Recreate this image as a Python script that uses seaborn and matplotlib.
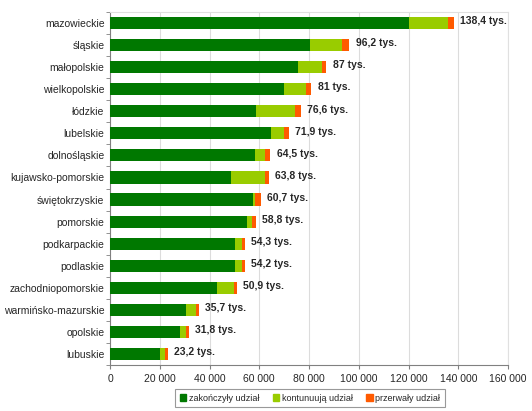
import matplotlib as mpl
import matplotlib.pyplot as plt
import seaborn as sns
import pandas as pd
import numpy as np

# Data (thousands, totals from labels)
regions = ['mazowieckie', 'śląskie', 'małopolskie', 'wielkopolskie', 'łódzkie', 'lubelskie',
           'dolnośląskie', 'kujawsko-pomorskie', 'świętokrzyskie', 'pomorskie', 'podkarpackie',
           'podlaskie', 'zachodniopomorskie', 'warmińsko-mazurskie', 'opolskie', 'lubuskie']
zakonczyly = [120.4, 80.3, 75.6, 70.1, 58.5, 64.8, 58.4, 48.7, 57.3, 55.0, 50.3, 50.1, 43.2, 30.6, 28.2, 19.9]
kontynuuja = [15.4, 13.1, 9.5, 8.8, 16.0, 5.3, 4.0, 13.8, 1.1, 2.1, 2.9, 3.1, 6.6, 3.9, 2.3, 2.2]
przerwaly = [2.6, 2.8, 1.9, 2.1, 2.1, 1.8, 2.1, 1.3, 2.3, 1.7, 1.0, 1.0, 1.1, 1.2, 1.3, 1.1]
total_labels = ['138,4', '96,2', '87', '81', '76,6', '71,9', '64,5', '63,8', '60,7', '58,8',
                '54,3', '54,2', '50,9', '35,7', '31,8', '23,2']
series_names = ['zakończyły udział', 'kontunuują udział', 'przerwały udział']
colors = ['#007800', '#99cc00', '#ff5a00']

sns.set_style("white")
plt.rcParams['font.family'] = ['Liberation Sans', 'DejaVu Sans']

df = pd.DataFrame({'region': regions,
                   'z': np.array(zakonczyly) * 1000,
                   'k': np.array(kontynuuja) * 1000,
                   'p': np.array(przerwaly) * 1000})
df['zk'] = df['z'] + df['k']
df['zkp'] = df['zk'] + df['p']

fig = plt.figure(figsize=(5.32, 4.11), dpi=100)
ax = fig.add_axes([110 / 532, 1 - 365 / 411, 398 / 532, 353 / 411])

# Stacked bars drawn as overlapping cumulative layers
for col, c in zip(['zkp', 'zk', 'z'], colors[::-1]):
    sns.barplot(data=df, y='region', x=col, orient='h', color=c, width=0.55,
                edgecolor='none', saturation=1, ax=ax, legend=False, zorder=3)

# Value labels
for i, (tot, lab) in enumerate(zip(df['zkp'], total_labels)):
    ax.text(tot + 2500, i - 0.08, f'{lab} tys.', ha='left', va='center',
            fontsize=7.5, fontweight='bold', zorder=4)

ax.set_xlim(0, 160000)
ax.set_ylim(len(regions) - 0.5, -0.5)
ticks = np.arange(0, 160001, 20000)
ax.set_xticks(ticks, [f'{t:,}'.replace(',', ' ') for t in ticks], fontsize=7.5)
ax.tick_params(axis='y', labelsize=7.5, pad=4)
ax.tick_params(axis='x', length=3, bottom=True, color='#808080')
ax.set_yticks(np.arange(len(regions) + 1) - 0.5, minor=True)
ax.tick_params(axis='y', which='minor', length=3, left=True, color='#808080')
ax.tick_params(axis='y', which='major', length=0)
ax.set_xlabel('')
ax.set_ylabel('')
ax.grid(axis='x', color='#dcdcdc', linewidth=0.8, zorder=0)
ax.set_axisbelow(True)
for s in ['top', 'right']:
    ax.spines[s].set_color('#e0e0e0')
for s in ['left', 'bottom']:
    ax.spines[s].set_color('#808080')
    ax.spines[s].set_linewidth(0.8)

handles = [mpl.patches.Patch(color=c) for c in colors]
leg = fig.legend(handles, series_names, loc='center', bbox_to_anchor=(310 / 532, 1 - 398 / 411),
                 ncol=3, fontsize=6.5, frameon=True, fancybox=False, handlelength=0.7,
                 handleheight=0.7, handletextpad=0.3, columnspacing=1.5, borderpad=0.5)
leg.get_frame().set_edgecolor('#808080')
leg.get_frame().set_linewidth(0.8)

plt.savefig('out.png', dpi=100)
